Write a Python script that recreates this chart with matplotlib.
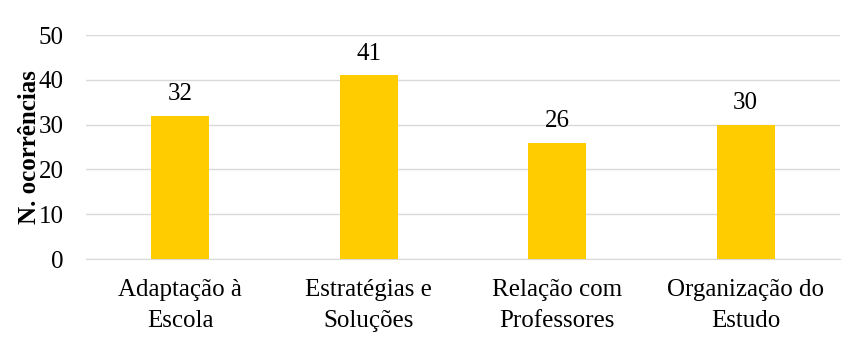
import matplotlib
matplotlib.use("Agg")
import matplotlib.pyplot as plt

categories = ["Adaptação à\nEscola", "Estratégias e\nSoluções", "Relação com\nProfessores", "Organização do\nEstudo"]
values = [32, 41, 26, 30]
yticks = [0, 10, 20, 30, 40, 50]

plt.rcParams['font.family'] = ['Liberation Serif', 'DejaVu Serif']
FS = 18

fig = plt.figure(figsize=(8.51, 3.38), dpi=100)
ax = fig.add_axes([86/851, 1 - 259/338, 754/851, (259 - 35)/338])
x = range(len(categories))
bars = ax.bar(x, values, width=0.31, color="#FFCC00", zorder=3)
for xi, v in zip(x, values):
    ax.text(xi, v + 2.3, str(v), ha="center", va="bottom", fontsize=FS)
ax.set_xlim(-0.5, len(categories) - 0.5)
ax.set_ylim(0, 50)
ax.set_yticks(yticks)
ax.set_xticks(list(x))
ax.set_xticklabels(categories, fontsize=FS, linespacing=1.55)
ax.tick_params(axis='y', labelsize=FS, length=0, pad=16)
ax.tick_params(axis='x', length=0, pad=14.5)
ax.grid(axis='y', color="#D9D9D9", linewidth=1, zorder=0)
for s in ["top", "right", "left"]:
    ax.spines[s].set_visible(False)
ax.spines["bottom"].set_color("#D9D9D9")
ax.set_ylabel("N. ocorrências", fontsize=FS, fontweight="bold", labelpad=-1.5)
fig.savefig("out.png", dpi=100)
